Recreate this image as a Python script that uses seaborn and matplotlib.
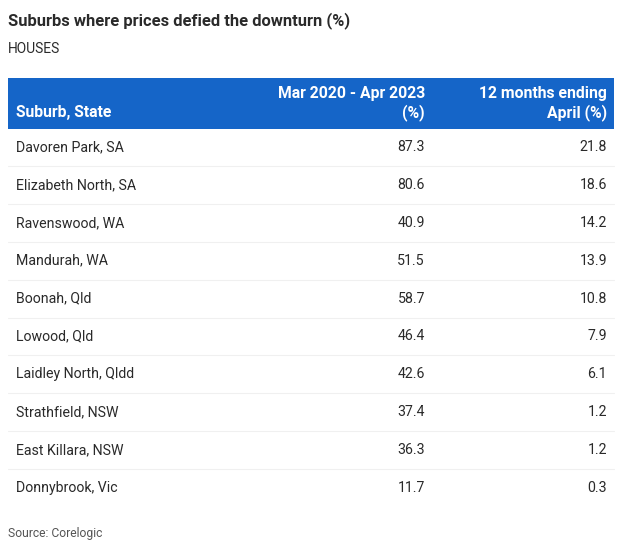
import matplotlib
matplotlib.use("Agg")
import matplotlib.pyplot as plt
import seaborn as sns
from matplotlib.patches import Rectangle

# table data
suburbs = ['Davoren Park, SA', 'Elizabeth North, SA', 'Ravenswood, WA', 'Mandurah, WA',
           'Boonah, Qld', 'Lowood, Qld', 'Laidley North, Qldd', 'Strathfield, NSW',
           'East Killara, NSW', 'Donnybrook, Vic']
since_2020 = [87.3, 80.6, 40.9, 51.5, 58.7, 46.4, 42.6, 37.4, 36.3, 11.7]
last_12m = [21.8, 18.6, 14.2, 13.9, 10.8, 7.9, 6.1, 1.2, 1.2, 0.3]
headers = ['Suburb, State', 'Mar 2020 - Apr 2023\n(%)', '12 months ending\nApril (%)']

sns.set_theme(style="white")
plt.rcParams['font.family'] = ['Roboto', 'DejaVu Sans']

W, H = 622, 543
fig = plt.figure(figsize=(W / 100, H / 100), dpi=100)
ax = fig.add_axes([0, 0, 1, 1])
ax.set_xlim(0, W)
ax.set_ylim(H, 0)
ax.axis('off')

dark = '#2a2a2a'
blue = '#1565c8'

ax.text(8, 21, 'Suburbs where prices defied the downturn (%)', fontsize=11.9,
        fontweight='bold', color=dark, va='center', ha='left')
ax.text(8, 49, 'HOUSES', fontsize=10, color=dark, va='center', ha='left')

# header band
ax.add_patch(Rectangle((8, 78), 606, 51, color=blue, lw=0))
ax.text(16, 113, headers[0], fontsize=11.3, fontweight='bold', color='white', va='center')
ax.text(425, 103.5, headers[1], fontsize=11.3, fontweight='bold', color='white',
        va='center', ha='right', multialignment='right', linespacing=1.2)
ax.text(607, 103.5, headers[2], fontsize=11.3, fontweight='bold', color='white',
        va='center', ha='right', multialignment='right', linespacing=1.2)

y0, step = 147, 37.9
for i, (name, a, b) in enumerate(zip(suburbs, since_2020, last_12m)):
    y = y0 + i * step
    ax.text(16, y, name, fontsize=10.2, color=dark, va='center', ha='left')
    ax.text(425, y, f'{a:.1f}', fontsize=10.2, color=dark, va='center', ha='right')
    ax.text(607, y, f'{b:.1f}', fontsize=10.2, color=dark, va='center', ha='right')
    if i < len(suburbs) - 1:
        ax.plot([8, 614], [y + step / 2, y + step / 2], color='#f0f0f0', lw=0.8)

ax.text(8, 534, 'Source: Corelogic', fontsize=8.7, color='#555555', va='center', ha='left')

fig.savefig('out.png', dpi=100)
